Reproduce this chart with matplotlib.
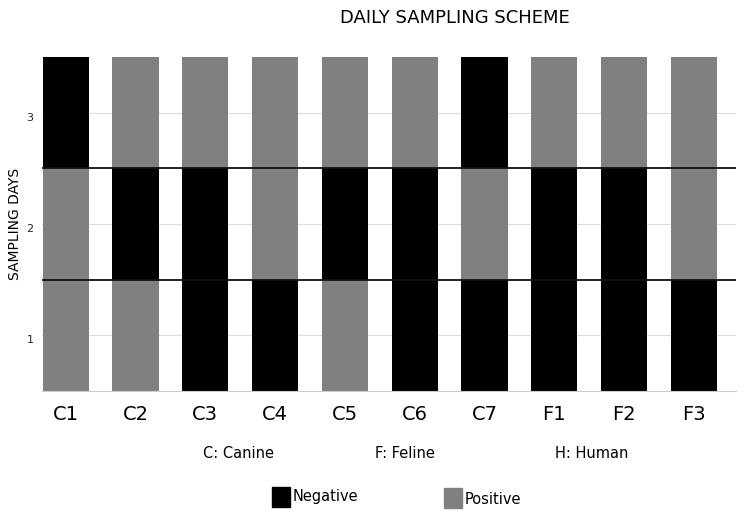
import numpy as np
import matplotlib
matplotlib.use('Agg')
import matplotlib.pyplot as plt

samples = ['C1', 'C2', 'C3', 'C4', 'C5', 'C6', 'C7', 'F1', 'F2', 'F3']
days = [1, 2, 3]
# N = negative, P = positive
day1 = ['P', 'P', 'N', 'N', 'P', 'N', 'N', 'N', 'N', 'N']
day2 = ['P', 'N', 'N', 'P', 'N', 'N', 'P', 'N', 'N', 'P']
day3 = ['N', 'P', 'P', 'P', 'P', 'P', 'N', 'P', 'P', 'P']
results = [day1, day2, day3]

cols = {'N': '#000000', 'P': '#808080'}

fig = plt.figure(figsize=(7.5, 5.16), dpi=100)
ax = fig.add_axes([0.056, 0.242, 0.925, 0.6475])

x = np.arange(len(samples))
for d, res in zip(days, results):
    ax.bar(x, [1] * len(samples), bottom=d - 0.5, width=0.66,
           color=[cols[r] for r in res], zorder=2)

ax.set_xlim(-0.34, 9.6)
ax.set_ylim(0.5, 3.5)
ax.set_yticks(days)
ax.set_yticklabels([str(d) for d in days], fontsize=8, color='#222222', va='top')
ax.tick_params(axis='y', length=0, pad=6)
ax.tick_params(axis='x', length=0, pad=10)
ax.set_xticks(x)
ax.set_xticklabels(samples, fontsize=14)
ax.grid(axis='y', color='#dddddd', linewidth=0.8, zorder=0)
for y in [1.5, 2.5]:
    ax.axhline(y, color='#111111', linewidth=1.3, zorder=3)
for s in ['top', 'right', 'left']:
    ax.spines[s].set_visible(False)
ax.spines['bottom'].set_color('#cccccc')

ax.set_ylabel('SAMPLING DAYS', fontsize=10)
ax.yaxis.set_label_coords(-0.029, 0.5)

fig.text(455 / 750, 1 - 18 / 516, 'DAILY SAMPLING SCHEME', ha='center', va='center', fontsize=13)

fig.text(238 / 750, 1 - 453 / 516, 'C: Canine', ha='center', va='center', fontsize=10.5)
fig.text(405 / 750, 1 - 453 / 516, 'F: Feline', ha='center', va='center', fontsize=10.5)
fig.text(592 / 750, 1 - 453 / 516, 'H: Human', ha='center', va='center', fontsize=10.5)

# legend boxes
fig.patches.append(plt.Rectangle((272 / 750, 1 - 507 / 516), 18 / 750, 20 / 516,
                                 transform=fig.transFigure, color='#000000'))
fig.text(293 / 750, 1 - 497 / 516, 'Negative', ha='left', va='center', fontsize=10.5)
fig.patches.append(plt.Rectangle((444 / 750, 1 - 508 / 516), 18 / 750, 20 / 516,
                                 transform=fig.transFigure, color='#808080'))
fig.text(465 / 750, 1 - 499 / 516, 'Positive', ha='left', va='center', fontsize=10.5)

fig.savefig('out.png', dpi=100)
